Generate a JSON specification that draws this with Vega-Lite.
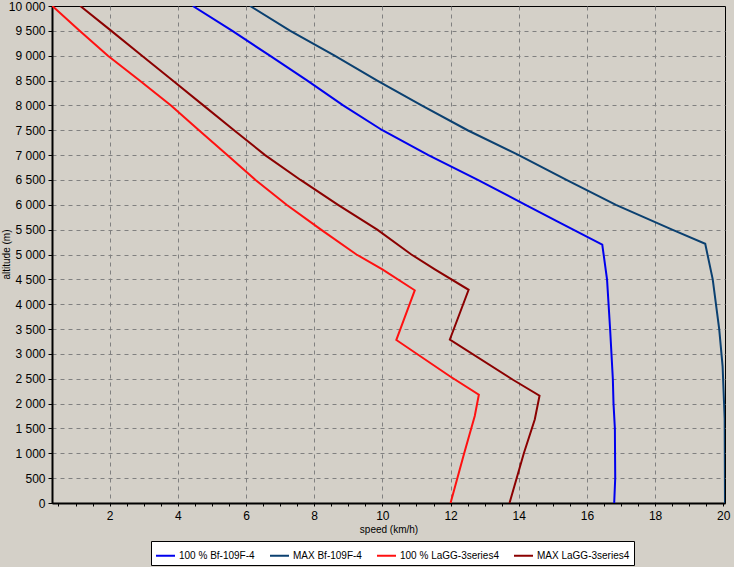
{
  "$schema": "https://vega.github.io/schema/vega-lite/v6.json",
  "width": 673,
  "height": 497,
  "autosize": {"type": "none"},
  "padding": {"left": 52, "top": 6, "right": 9, "bottom": 64},
  "background": "#d4d0c8",
  "config": {
    "view": {"stroke": "#000000", "strokeWidth": 1, "fill": "#d4d0c8"},
    "font": "Liberation Sans"
  },
  "data": {
    "values": [
      {"series": "100 % Bf-109F-4", "alt": 10000, "speed": 4.44},
      {"series": "100 % Bf-109F-4", "alt": 9500, "speed": 5.6},
      {"series": "100 % Bf-109F-4", "alt": 9000, "speed": 6.7},
      {"series": "100 % Bf-109F-4", "alt": 8500, "speed": 7.8},
      {"series": "100 % Bf-109F-4", "alt": 8000, "speed": 8.85},
      {"series": "100 % Bf-109F-4", "alt": 7500, "speed": 10.0},
      {"series": "100 % Bf-109F-4", "alt": 7000, "speed": 11.35},
      {"series": "100 % Bf-109F-4", "alt": 6500, "speed": 12.8},
      {"series": "100 % Bf-109F-4", "alt": 6000, "speed": 14.2},
      {"series": "100 % Bf-109F-4", "alt": 5640, "speed": 15.2},
      {"series": "100 % Bf-109F-4", "alt": 5200, "speed": 16.45},
      {"series": "100 % Bf-109F-4", "alt": 4500, "speed": 16.59},
      {"series": "100 % Bf-109F-4", "alt": 3500, "speed": 16.68},
      {"series": "100 % Bf-109F-4", "alt": 2500, "speed": 16.76},
      {"series": "100 % Bf-109F-4", "alt": 2000, "speed": 16.78},
      {"series": "100 % Bf-109F-4", "alt": 1500, "speed": 16.82},
      {"series": "100 % Bf-109F-4", "alt": 500, "speed": 16.83},
      {"series": "100 % Bf-109F-4", "alt": 0, "speed": 16.8},

      {"series": "MAX Bf-109F-4", "alt": 10000, "speed": 6.12},
      {"series": "MAX Bf-109F-4", "alt": 9500, "speed": 7.3},
      {"series": "MAX Bf-109F-4", "alt": 9000, "speed": 8.6},
      {"series": "MAX Bf-109F-4", "alt": 8500, "speed": 9.85},
      {"series": "MAX Bf-109F-4", "alt": 8000, "speed": 11.15},
      {"series": "MAX Bf-109F-4", "alt": 7500, "speed": 12.5},
      {"series": "MAX Bf-109F-4", "alt": 7000, "speed": 14.0},
      {"series": "MAX Bf-109F-4", "alt": 6500, "speed": 15.4},
      {"series": "MAX Bf-109F-4", "alt": 6000, "speed": 16.85},
      {"series": "MAX Bf-109F-4", "alt": 5500, "speed": 18.5},
      {"series": "MAX Bf-109F-4", "alt": 5215, "speed": 19.47},
      {"series": "MAX Bf-109F-4", "alt": 4500, "speed": 19.69},
      {"series": "MAX Bf-109F-4", "alt": 3500, "speed": 19.88},
      {"series": "MAX Bf-109F-4", "alt": 2750, "speed": 19.98},
      {"series": "MAX Bf-109F-4", "alt": 1700, "speed": 20.04},
      {"series": "MAX Bf-109F-4", "alt": 0, "speed": 20.05},

      {"series": "100 % LaGG-3series4", "alt": 10000, "speed": 0.32},
      {"series": "100 % LaGG-3series4", "alt": 9500, "speed": 1.12},
      {"series": "100 % LaGG-3series4", "alt": 9000, "speed": 1.95},
      {"series": "100 % LaGG-3series4", "alt": 8500, "speed": 2.88},
      {"series": "100 % LaGG-3series4", "alt": 8000, "speed": 3.8},
      {"series": "100 % LaGG-3series4", "alt": 7500, "speed": 4.62},
      {"series": "100 % LaGG-3series4", "alt": 7000, "speed": 5.45},
      {"series": "100 % LaGG-3series4", "alt": 6500, "speed": 6.28},
      {"series": "100 % LaGG-3series4", "alt": 6000, "speed": 7.19},
      {"series": "100 % LaGG-3series4", "alt": 5500, "speed": 8.2},
      {"series": "100 % LaGG-3series4", "alt": 5000, "speed": 9.24},
      {"series": "100 % LaGG-3series4", "alt": 4700, "speed": 10.0},
      {"series": "100 % LaGG-3series4", "alt": 4280, "speed": 10.95},
      {"series": "100 % LaGG-3series4", "alt": 3280, "speed": 10.41},
      {"series": "100 % LaGG-3series4", "alt": 2550, "speed": 11.98},
      {"series": "100 % LaGG-3series4", "alt": 2180, "speed": 12.83},
      {"series": "100 % LaGG-3series4", "alt": 1750, "speed": 12.71},
      {"series": "100 % LaGG-3series4", "alt": 1000, "speed": 12.4},
      {"series": "100 % LaGG-3series4", "alt": 0, "speed": 12.0},

      {"series": "MAX LaGG-3series4", "alt": 10000, "speed": 1.14},
      {"series": "MAX LaGG-3series4", "alt": 9500, "speed": 2.05},
      {"series": "MAX LaGG-3series4", "alt": 9000, "speed": 2.95},
      {"series": "MAX LaGG-3series4", "alt": 8500, "speed": 3.85},
      {"series": "MAX LaGG-3series4", "alt": 8000, "speed": 4.75},
      {"series": "MAX LaGG-3series4", "alt": 7500, "speed": 5.65},
      {"series": "MAX LaGG-3series4", "alt": 7000, "speed": 6.56},
      {"series": "MAX LaGG-3series4", "alt": 6500, "speed": 7.6},
      {"series": "MAX LaGG-3series4", "alt": 6000, "speed": 8.7},
      {"series": "MAX LaGG-3series4", "alt": 5500, "speed": 9.85},
      {"series": "MAX LaGG-3series4", "alt": 5000, "speed": 10.85},
      {"series": "MAX LaGG-3series4", "alt": 4700, "speed": 11.54},
      {"series": "MAX LaGG-3series4", "alt": 4290, "speed": 12.53},
      {"series": "MAX LaGG-3series4", "alt": 3290, "speed": 11.98},
      {"series": "MAX LaGG-3series4", "alt": 2480, "speed": 13.83},
      {"series": "MAX LaGG-3series4", "alt": 2160, "speed": 14.61},
      {"series": "MAX LaGG-3series4", "alt": 1680, "speed": 14.47},
      {"series": "MAX LaGG-3series4", "alt": 1000, "speed": 14.15},
      {"series": "MAX LaGG-3series4", "alt": 0, "speed": 13.73}
    ]
  },
  "mark": {"type": "line", "strokeWidth": 2, "clip": true},
  "encoding": {
    "x": {
      "field": "speed",
      "type": "quantitative",
      "scale": {"domain": [0.31, 20.05], "nice": false, "zero": false},
      "axis": {
        "title": "speed (km/h)",
        "titleFont": "Liberation Sans",
        "titleFontSize": 10,
        "titleFontWeight": "normal",
        "titleColor": "#000000",
        "titlePadding": 3,
        "values": [0.5, 1, 1.5, 2, 2.5, 3, 3.5, 4, 4.5, 5, 5.5, 6, 6.5, 7, 7.5, 8, 8.5, 9, 9.5, 10, 10.5, 11, 11.5, 12, 12.5, 13, 13.5, 14, 14.5, 15, 15.5, 16, 16.5, 17, 17.5, 18, 18.5, 19, 19.5, 20],
        "labelExpr": "datum.value % 2 === 0 ? format(datum.value, 'd') : ''",
        "labelFont": "Liberation Sans",
        "labelFontSize": 12,
        "labelColor": "#000000",
        "labelPadding": 4,
        "labelFlush": false,
        "labelOverlap": false,
        "tickColor": "#000000",
        "tickSize": 3,
        "domainColor": "#000000",
        "domainWidth": 2,
        "grid": true,
        "gridColor": "#808080",
        "gridDash": [4, 4],
        "gridWidth": 1,
        "gridOpacity": {"condition": {"test": "datum.value % 2 === 0 && datum.value < 20", "value": 1}, "value": 0}
      }
    },
    "y": {
      "field": "alt",
      "type": "quantitative",
      "scale": {"domain": [0, 10000], "nice": false},
      "axis": {
        "title": "altitude (m)",
        "titleFont": "Liberation Sans",
        "titleFontSize": 10,
        "titleFontWeight": "normal",
        "titleColor": "#000000",
        "titleAngle": -90,
        "titleX": -46,
        "titleY": 248,
        "titleAlign": "center",
        "titleBaseline": "middle",
        "values": [0, 500, 1000, 1500, 2000, 2500, 3000, 3500, 4000, 4500, 5000, 5500, 6000, 6500, 7000, 7500, 8000, 8500, 9000, 9500, 10000],
        "labelExpr": "replace(format(datum.value, ','), ',', ' ')",
        "labelFont": "Liberation Sans",
        "labelFontSize": 12,
        "labelColor": "#000000",
        "labelPadding": 3,
        "labelFlush": false,
        "labelOverlap": false,
        "tickColor": "#000000",
        "tickSize": 4,
        "domainColor": "#000000",
        "domainWidth": 2,
        "grid": true,
        "gridColor": "#808080",
        "gridDash": [4, 4],
        "gridWidth": 1,
        "gridOpacity": {"condition": {"test": "datum.value > 0 && datum.value < 10000", "value": 1}, "value": 0}
      }
    },
    "color": {
      "field": "series",
      "type": "nominal",
      "scale": {
        "domain": ["100 % Bf-109F-4", "MAX Bf-109F-4", "100 % LaGG-3series4", "MAX LaGG-3series4"],
        "range": ["#0000ee", "#0b4070", "#ff1010", "#8b0000"]
      },
      "legend": {
        "title": null,
        "orient": "none",
        "legendX": 99,
        "legendY": 535,
        "direction": "horizontal",
        "columns": 4,
        "columnPadding": 11,
        "fillColor": "#ffffff",
        "strokeColor": "#000000",
        "padding": 4,
        "symbolType": "stroke",
        "symbolSize": 361,
        "symbolStrokeWidth": 2,
        "labelFont": "Liberation Sans",
        "labelFontSize": 10,
        "labelColor": "#000000",
        "labelOffset": 3
      }
    },
    "order": {"field": "alt", "sort": "descending"}
  }
}
